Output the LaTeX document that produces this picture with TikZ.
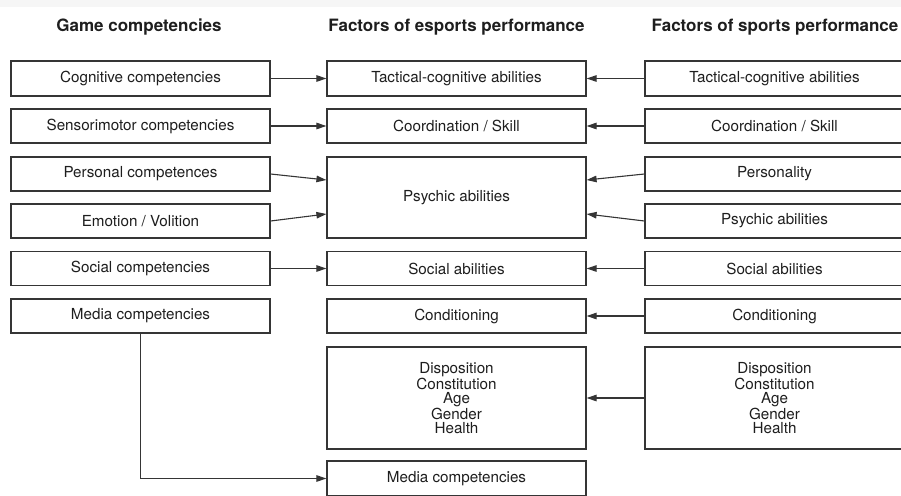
\documentclass[tikz,border=0pt]{standalone}
\usepackage{fontspec}
\setmainfont{TeX Gyre Heros}
\usetikzlibrary{arrows.meta}
\definecolor{boxline}{HTML}{353535}
\definecolor{txt}{HTML}{1E1E1E}
\definecolor{band}{HTML}{F6F6F6}
\begin{document}
\begin{tikzpicture}[x=1pt,y=-1pt,
  box/.style={draw=boxline,line width=1.2pt,fill=white,minimum width=259pt,inner sep=0pt,
    text=txt,font=\fontsize{15.2}{14.2}\selectfont,align=center},
  head/.style={text=txt,font=\fontsize{17}{18}\selectfont\bfseries},
  conn/.style={draw=boxline,line width=1.1pt,-{Triangle[length=10pt,width=6.5pt]}}]
\useasboundingbox (0,0) rectangle (901,495);
\fill[band] (0,0) rectangle (901,7);
% headings
\node[head] (h1) at (139,27) {Game competencies};
\node[head] (h2) at (456.5,27) {Factors of esports performance};
\node[head] (h3) at (775,27) {Factors of sports performance};
% left column
\node[box,minimum height=35pt] (l1) at (140.5,78.5) {Cognitive competencies};
\node[box,minimum height=34pt] (l2) at (140.5,126) {Sensorimotor competencies};
\node[box,minimum height=34pt] (l3) at (140.5,174) {Personal competences};
\node[box,minimum height=34pt] (l4) at (140.5,221) {Emotion / Volition};
\node[box,minimum height=34pt] (l5) at (140.5,268.5) {Social competencies};
\node[box,minimum height=34pt] (l6) at (140.5,316) {Media competencies};
% middle column
\node[box,minimum height=35pt] (m1) at (456.5,78.5) {Tactical-cognitive abilities};
\node[box,minimum height=34pt] (m2) at (456.5,126) {Coordination / Skill};
\node[box,minimum height=81pt] (m3) at (456.5,197.5) {Psychic abilities};
\node[box,minimum height=34pt] (m5) at (456.5,268.5) {Social abilities};
\node[box,minimum height=34pt] (m6) at (456.5,316) {Conditioning};
\node[box,minimum height=102pt] (m7) at (456.5,398) {Disposition\\Constitution\\Age\\Gender\\Health};
\node[box,minimum height=35pt] (m8) at (456.5,478.5) {Media competencies};
% right column
\node[box,minimum height=35pt] (r1) at (774.5,78.5) {Tactical-cognitive abilities};
\node[box,minimum height=34pt] (r2) at (774.5,126) {Coordination / Skill};
\node[box,minimum height=34pt] (r3) at (774.5,174) {Personality};
\node[box,minimum height=34pt] (r4) at (774.5,221) {Psychic abilities};
\node[box,minimum height=34pt] (r5) at (774.5,268.5) {Social abilities};
\node[box,minimum height=34pt] (r6) at (774.5,316) {Conditioning};
\node[box,minimum height=102pt] (r7) at (774.5,398) {Disposition\\Constitution\\Age\\Gender\\Health};
% connectors left -> middle
\draw[conn] (l1) -- (m1);
\draw[conn] (l2) -- (m2);
\draw[conn] (l3.east) -- ([yshift=17.5pt]m3.west);
\draw[conn] (l4.east) -- ([yshift=-16.5pt]m3.west);
\draw[conn] (l5) -- (m5);
\draw[conn] (l6.south) |- (m8.west);
% connectors right -> middle
\draw[conn] (r1) -- (m1);
\draw[conn] (r2) -- (m2);
\draw[conn] (r3.west) -- ([yshift=17.5pt]m3.east);
\draw[conn] (r4.west) -- ([yshift=-16.5pt]m3.east);
\draw[conn] (r5) -- (m5);
\draw[conn] (r6) -- (m6);
\draw[conn] (r7) -- (m7);
\end{tikzpicture}
\end{document}
